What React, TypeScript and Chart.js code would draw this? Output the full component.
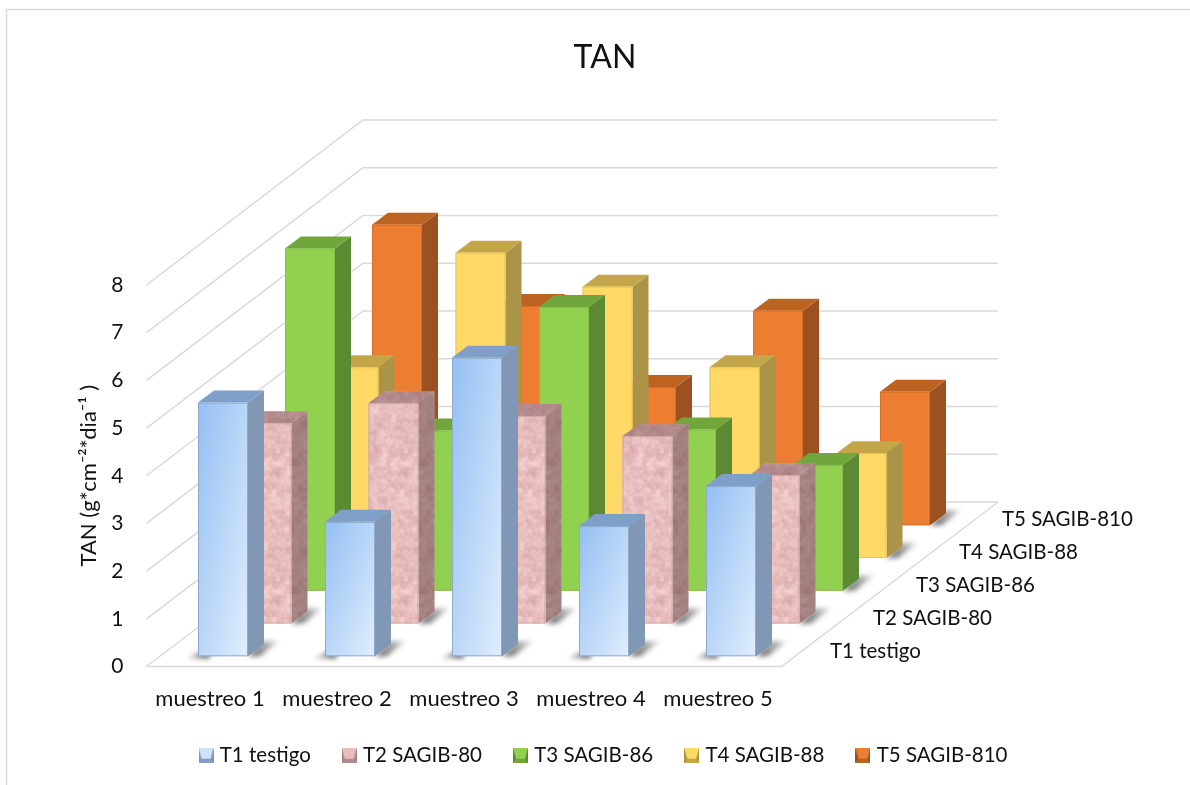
import React, { useEffect, useRef } from "react";
import { Chart, registerables } from "chart.js";

Chart.register(...registerables);

const categories = ["muestreo 1", "muestreo 2", "muestreo 3", "muestreo 4", "muestreo 5"];
const seriesNames = ["T1 testigo", "T2 SAGIB-80", "T3 SAGIB-86", "T4 SAGIB-88", "T5 SAGIB-810"];

const t1Values = [5.32, 2.82, 6.26, 2.73, 3.57];
const t2Values = [4.2, 4.62, 4.35, 3.93, 3.11];
const t3Values = [7.18, 3.36, 5.95, 3.38, 2.64];
const t4Values = [4.0, 6.4, 5.69, 4.0, 2.2];
const t5Values = [6.3, 4.6, 2.9, 4.5, 2.8];
const seriesValues = [t1Values, t2Values, t3Values, t4Values, t5Values];

const FONT = "Lato, 'Open Sans', sans-serif";
const TEXT = "#111111";
const GRID = "#d9d9d9";

// Oblique projection used for the box faces and the floor
const BOX_DX = 16;
const BOX_DY = 12;
const ROW_DX = 43.5;
const ROW_DY = 32.75;
const FRONT_DX = 13;
const FRONT_DY = 10.2;
const WALL_DX = 216.5;
const WALL_UNIT = 47.75;
const WALL_FLOOR_Y = 502;

type Faces = { front: string; side: string; top: string; edge: string };

const palette: Faces[] = [
  { front: "#b8d5f8", side: "#8098b5", top: "#7f9fc8", edge: "#8fa9c9" },
  { front: "#e8bdbd", side: "#a98383", top: "#b58a8c", edge: "#cfa6a6" },
  { front: "#92d050", side: "#5c8a32", top: "#71a63c", edge: "#86bd4b" },
  { front: "#ffd966", side: "#ab9448", top: "#c4a64a", edge: "#e6c35c" },
  { front: "#ed7d31", side: "#9c5220", top: "#bd6322", edge: "#d87029" },
];

// Mottled stone tile for the second series
function stoneTile(): HTMLCanvasElement {
  const size = 128;
  const c = document.createElement("canvas");
  c.width = c.height = size;
  const g = c.getContext("2d")!;
  const img = g.createImageData(size, size);
  const hash = (i: number, j: number) => {
    let h = (i * 374761393 + j * 668265263) | 0;
    h = Math.imul(h ^ (h >>> 13), 1274126177);
    return ((h ^ (h >>> 16)) >>> 0) / 4294967295;
  };
  const noise = (x: number, y: number, cells: number) => {
    const fx = (x / size) * cells;
    const fy = (y / size) * cells;
    const ix = Math.floor(fx);
    const iy = Math.floor(fy);
    const s = (t: number) => t * t * (3 - 2 * t);
    const tx = s(fx - ix);
    const ty = s(fy - iy);
    const v = (a: number, b: number) => hash(a % cells, (b % cells) + cells * 31);
    const top = v(ix, iy) * (1 - tx) + v(ix + 1, iy) * tx;
    const bottom = v(ix, iy + 1) * (1 - tx) + v(ix + 1, iy + 1) * tx;
    return top * (1 - ty) + bottom * ty;
  };
  for (let y = 0; y < size; y++) {
    for (let x = 0; x < size; x++) {
      const n = 0.3 * noise(x, y, 13) + 0.4 * noise(x, y, 29) + 0.3 * noise(x, y, 53) - 0.5;
      const k = n * 60;
      const o = (y * size + x) * 4;
      img.data[o] = 232 + k * 0.7;
      img.data[o + 1] = 189 + k;
      img.data[o + 2] = 189 + k;
      img.data[o + 3] = 255;
    }
  }
  g.putImageData(img, 0, 0);
  return c;
}

// Bevelled legend marker
function swatch(f: Faces, index: number): HTMLCanvasElement {
  const c = document.createElement("canvas");
  c.width = c.height = 15;
  const g = c.getContext("2d")!;
  const poly = (pts: number[][], fill: string) => {
    g.beginPath();
    pts.forEach(([x, y], i) => (i ? g.lineTo(x, y) : g.moveTo(x, y)));
    g.closePath();
    g.fillStyle = fill;
    g.fill();
  };
  poly([[0, 0], [15, 0], [15, 15], [0, 15]], f.side);
  poly([[0, 15], [15, 15], [12, 11], [3, 11]], f.top);
  poly([[0, 0], [15, 0], [12, 11], [3, 11]], index === 0 ? "#cfe2fa" : f.front);
  return c;
}

function fillPoly(ctx: CanvasRenderingContext2D, pts: number[][], fill: string | CanvasGradient | CanvasPattern) {
  ctx.beginPath();
  pts.forEach(([x, y], i) => (i ? ctx.lineTo(x, y) : ctx.moveTo(x, y)));
  ctx.closePath();
  ctx.fillStyle = fill;
  ctx.fill();
}

function drawBox(
  ctx: CanvasRenderingContext2D,
  x0: number,
  x1: number,
  top: number,
  bottom: number,
  series: number,
  stone: CanvasPattern | null,
) {
  const f = palette[series];

  // Contact shadow on the floor
  ctx.save();
  ctx.filter = "blur(2.5px)";
  const fade = ctx.createLinearGradient(x1 + 4, 0, x1 + 32, 0);
  fade.addColorStop(0, "rgba(60,60,60,0.8)");
  fade.addColorStop(1, "rgba(60,60,60,0.1)");
  fillPoly(ctx, [[x1, bottom], [x1 + 12, bottom], [x1 + 31, bottom - 15], [x1 + BOX_DX, bottom - BOX_DY - 3]], fade);
  const tip = ctx.createLinearGradient(x0 - 12, 0, x0 + 6, 0);
  tip.addColorStop(0, "rgba(60,60,60,0.1)");
  tip.addColorStop(1, "rgba(60,60,60,0.8)");
  fillPoly(ctx, [[x0 - 12, bottom + 2], [x0 + 12, bottom + 2], [x0 + 12, bottom - 8]], tip);
  ctx.restore();

  // Right and top faces
  const sidePts = [[x1, top], [x1 + BOX_DX, top - BOX_DY], [x1 + BOX_DX, bottom - BOX_DY], [x1, bottom]];
  const topPts = [[x0, top], [x1, top], [x1 + BOX_DX, top - BOX_DY], [x0 + BOX_DX, top - BOX_DY]];
  if (stone) {
    fillPoly(ctx, sidePts, stone);
    fillPoly(ctx, sidePts, "rgba(70,45,45,0.42)");
    fillPoly(ctx, topPts, stone);
    fillPoly(ctx, topPts, "rgba(80,45,50,0.35)");
  } else {
    fillPoly(ctx, sidePts, f.side);
    fillPoly(ctx, topPts, f.top);
  }

  // Front face
  const frontPts = [[x0, top], [x1, top], [x1, bottom], [x0, bottom]];
  if (series === 0) {
    const w = x1 - x0;
    const h = bottom - top;
    const t = (2 * w * h) / (w * w + h * h);
    const grad = ctx.createLinearGradient(x0, top, x0 + h * t, top + w * t);
    grad.addColorStop(0, "#93bff3");
    grad.addColorStop(1, "#e1eefd");
    fillPoly(ctx, frontPts, grad);
  } else {
    fillPoly(ctx, frontPts, stone ?? f.front);
  }
  ctx.strokeStyle = f.edge;
  ctx.lineWidth = 1;
  ctx.strokeRect(x0 + 0.5, top + 0.5, x1 - x0 - 1, bottom - top - 1);
}

const stage3d = {
  id: "stage3d",
  beforeDraw(chart: any) {
    // Outer chart frame, cut off by the right and bottom page edges
    const { ctx } = chart;
    ctx.save();
    ctx.strokeStyle = GRID;
    ctx.lineWidth = 1.5;
    ctx.strokeRect(6.5, 9.5, 1400, 1000);
    ctx.restore();
  },
  beforeDatasetsDraw(chart: any) {
    const { ctx, chartArea, scales } = chart;
    const y = scales.y;
    const left = chartArea.left;
    const right = chartArea.right;
    const wallX = left + WALL_DX;
    const wallRight = right + (wallX - left);
    const floorFront = y.getPixelForValue(0);

    ctx.save();
    ctx.strokeStyle = GRID;
    ctx.lineWidth = 1.5;
    for (const t of y.ticks) {
      const front = y.getPixelForValue(t.value);
      const back = WALL_FLOOR_Y - t.value * WALL_UNIT;
      ctx.beginPath();
      ctx.moveTo(left, front);
      ctx.lineTo(wallX, back);
      ctx.lineTo(wallRight, back);
      ctx.stroke();
    }
    ctx.beginPath();
    ctx.moveTo(left, floorFront);
    ctx.lineTo(right, floorFront);
    ctx.lineTo(wallRight, WALL_FLOOR_Y);
    ctx.stroke();
    ctx.restore();
  },
  beforeDatasetDraw(chart: any, args: any) {
    const { ctx } = chart;
    const series: number = args.index;
    const stone = series === 1 ? chart.$stone : null;
    const dx = FRONT_DX + series * ROW_DX;
    const dy = FRONT_DY + series * ROW_DY;
    ctx.save();
    for (const bar of args.meta.data) {
      const half = bar.width / 2;
      drawBox(ctx, bar.x - half + dx, bar.x + half + dx, bar.y - dy, bar.base - dy, series, stone);
    }
    ctx.restore();
    return false;
  },
  afterDatasetsDraw(chart: any) {
    // Series names along the depth axis
    const { ctx, chartArea } = chart;
    ctx.save();
    ctx.font = `20.5px ${FONT}`;
    ctx.fillStyle = TEXT;
    ctx.textAlign = "left";
    ctx.textBaseline = "middle";
    seriesNames.forEach((name, s) => {
      ctx.fillText(name, chartArea.right + 48.5 + s * 43, chartArea.bottom - 15 - s * 33);
    });
    ctx.restore();
  },
};

export default function App() {
  const ref = useRef<HTMLCanvasElement>(null);

  useEffect(() => {
    const canvas = ref.current!;
    const swatches = palette.map((f, i) => swatch(f, i));
    const chart = new Chart(canvas, {
      type: "bar",
      data: {
        labels: categories,
        datasets: seriesNames.map((name, i) => ({
          label: name,
          data: seriesValues[i],
          backgroundColor: palette[i].front,
          grouped: false,
          categoryPercentage: 1,
          barPercentage: 50 / 127,
        })),
      },
      plugins: [stage3d],
      options: {
        responsive: false,
        animation: false,
        layout: { autoPadding: false, padding: { left: 20, right: 0, top: 0, bottom: 9.6 } },
        plugins: {
          tooltip: { enabled: false },
          title: {
            display: true,
            text: "TAN",
            color: TEXT,
            font: { family: FONT, size: 32, weight: "normal" },
            padding: { top: 38.8, bottom: 207.8 },
          },
          legend: {
            position: "bottom",
            labels: {
              usePointStyle: true,
              pointStyleWidth: 7,
              padding: 35,
              color: TEXT,
              font: { family: FONT, size: 20.5 },
              generateLabels: () =>
                seriesNames.map((name, i) => ({
                  text: name,
                  pointStyle: swatches[i],
                  datasetIndex: i,
                  fillStyle: palette[i].front,
                  strokeStyle: palette[i].front,
                  lineWidth: 0,
                  fontColor: TEXT,
                })),
            },
          },
        },
        scales: {
          x: {
            type: "category",
            grid: { display: false, drawTicks: false },
            border: { display: false },
            ticks: {
              color: TEXT,
              font: { family: FONT, size: 22 },
              padding: 19,
              maxRotation: 0,
              autoSkip: false,
            },
            afterFit: (s: any) => {
              s.height = 43.4;
            },
          },
          y: {
            type: "linear",
            min: 0,
            max: 8,
            grid: { display: false, drawTicks: false },
            border: { display: false },
            ticks: {
              stepSize: 1,
              color: TEXT,
              font: { family: FONT, size: 21 },
              padding: 23,
            },
            title: {
              display: true,
              text: "TAN (g*cm⁻²*dia⁻¹ )",
              color: TEXT,
              font: { family: FONT, size: 22 },
              padding: { top: 56, bottom: 0 },
            },
            afterFit: (s: any) => {
              s.width = 126.5;
            },
          },
          // Reserves the room taken by the depth axis and its names
          depth: {
            type: "category",
            position: "right",
            labels: seriesNames,
            grid: { display: false, drawTicks: false },
            border: { display: false },
            ticks: { display: false },
            afterFit: (s: any) => {
              s.width = 408.5;
            },
          },
        },
      },
    } as any);
    (chart as any).$stone = chart.ctx.createPattern(stoneTile(), "repeat");
    chart.draw();
    return () => chart.destroy();
  }, []);

  return (
    <div style={{ position: "fixed", left: 0, top: 0, width: 1190, height: 785, background: "#fff" }}>
      <canvas ref={ref} width={1190} height={785} style={{ display: "block" }} />
    </div>
  );
}
